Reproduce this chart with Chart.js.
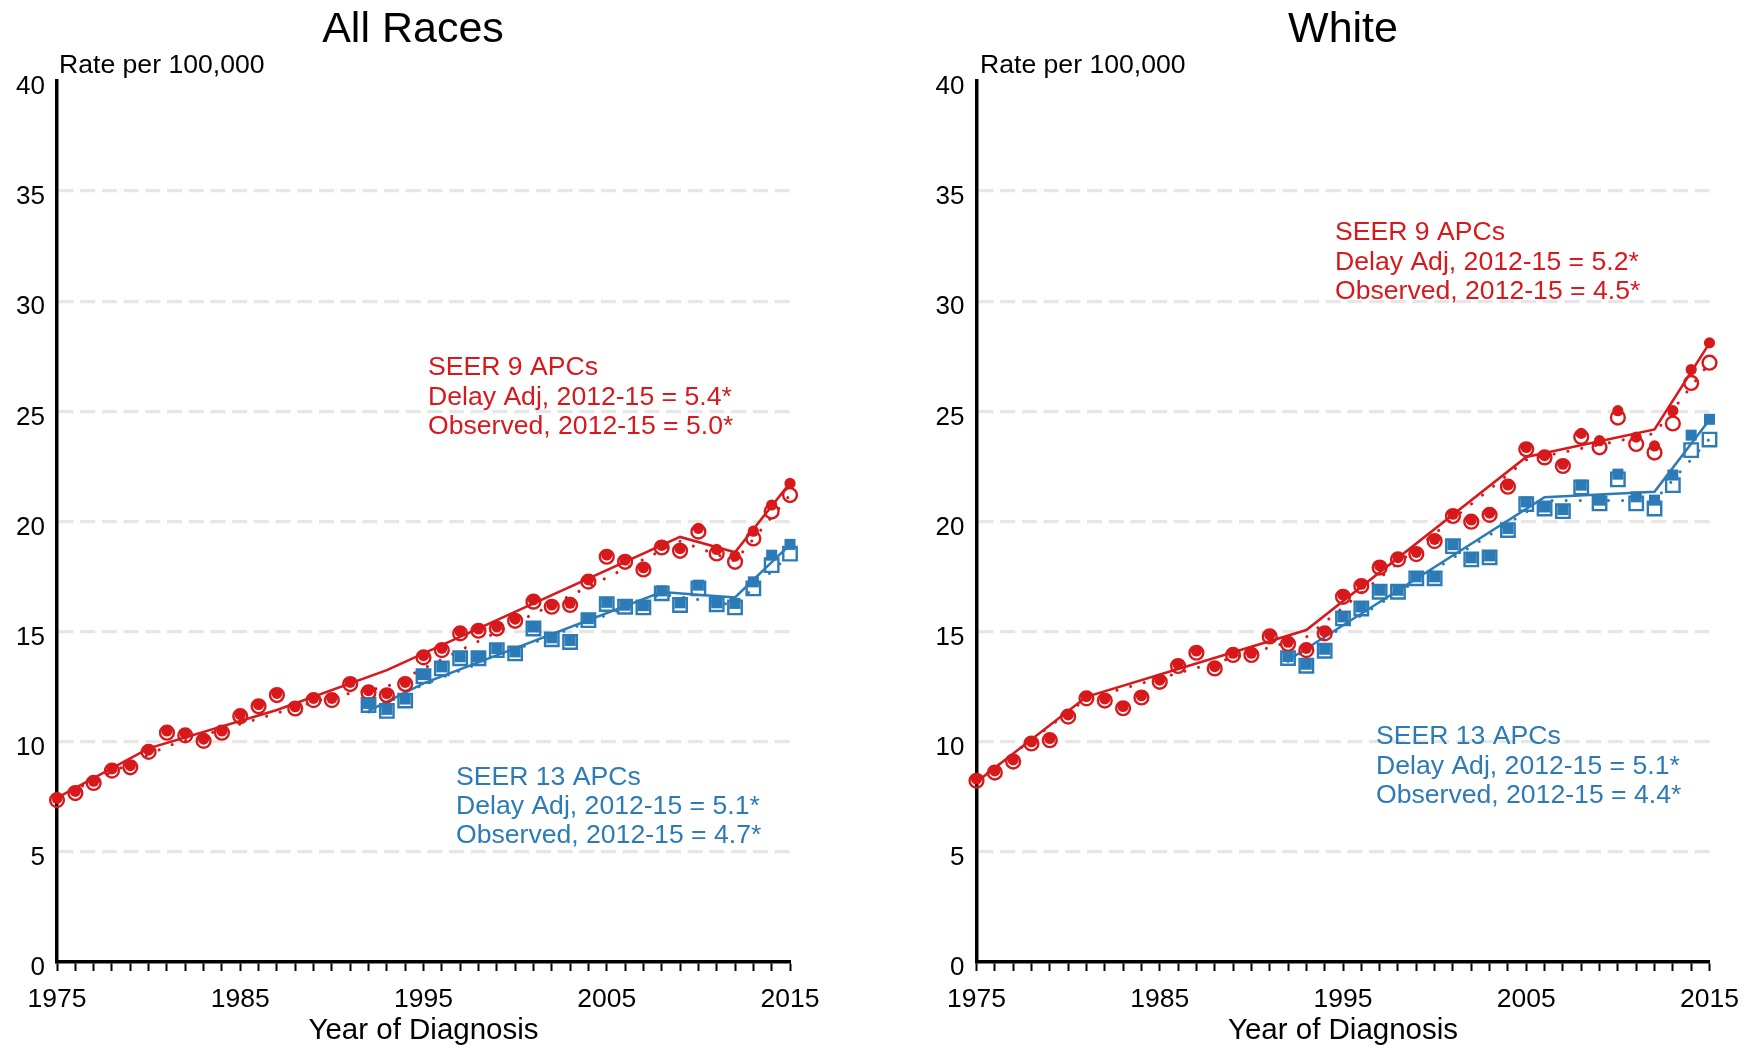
<!DOCTYPE html>
<html>
<head>
<meta charset="utf-8">
<title>SEER incidence trends</title>
<script src="https://cdn.jsdelivr.net/npm/chart.js@4.4.1/dist/chart.umd.min.js"></script>
<style>
  body { margin: 0; background: #fff; }
  canvas { position: absolute; top: 0; }
</style>
</head>
<body>
<canvas id="allRaces" width="877" height="1046" style="left:0"></canvas>
<canvas id="white" width="877" height="1046" style="left:877px"></canvas>
<script>
// years
const years9 = [1975, 1976, 1977, 1978, 1979, 1980, 1981, 1982, 1983, 1984,
  1985, 1986, 1987, 1988, 1989, 1990, 1991, 1992, 1993, 1994,
  1995, 1996, 1997, 1998, 1999, 2000, 2001, 2002, 2003, 2004,
  2005, 2006, 2007, 2008, 2009, 2010, 2011, 2012, 2013, 2014, 2015];
const years13 = [1992, 1993, 1994, 1995, 1996, 1997, 1998, 1999, 2000, 2001,
  2002, 2003, 2004, 2005, 2006, 2007, 2008, 2009, 2010, 2011,
  2012, 2013, 2014, 2015];
const yTicks = [0, 5, 10, 15, 20, 25, 30, 35, 40];
const xLabels = [1975, 1985, 1995, 2005, 2015];

// All Races
const allObs9 = [7.35, 7.67, 8.13, 8.69, 8.84, 9.54, 10.41, 10.29, 10.04, 10.41,
  11.16, 11.61, 12.12, 11.51, 11.89, 11.89, 12.62, 12.24, 12.11, 12.62,
  13.83, 14.16, 14.92, 15.04, 15.14, 15.49, 16.36, 16.13, 16.21, 17.27,
  18.40, 18.17, 17.82, 18.82, 18.67, 19.54, 18.55, 18.17, 19.23, 20.45, 21.20];
const allAdj9 = [7.43, 7.75, 8.21, 8.77, 8.92, 9.62, 10.49, 10.37, 10.12, 10.49,
  11.24, 11.69, 12.20, 11.59, 11.97, 11.97, 12.70, 12.32, 12.19, 12.70,
  13.91, 14.24, 15.00, 15.12, 15.22, 15.57, 16.44, 16.21, 16.29, 17.35,
  18.48, 18.25, 17.90, 18.92, 18.77, 19.69, 18.73, 18.43, 19.56, 20.75, 21.73];
const allObs13 = [11.67, 11.40, 11.87, 12.98, 13.33, 13.79, 13.79, 14.16, 14.01, 15.14,
  14.65, 14.53, 15.52, 16.25, 16.13, 16.10, 16.74, 16.21, 16.96, 16.24,
  16.10, 16.96, 18.02, 18.54];
const allAdj13 = [11.74, 11.47, 11.94, 13.05, 13.40, 13.86, 13.86, 14.23, 14.08, 15.21,
  14.72, 14.60, 15.59, 16.33, 16.20, 16.18, 16.85, 16.31, 17.11, 16.31,
  16.28, 17.26, 18.47, 18.96];
// joinpoint fits
const allFitAdj9Years = [1975, 1980, 1987, 1993, 2009, 2012, 2015];
const allFitAdj9 = [7.45, 9.70, 11.44, 13.25, 19.30, 18.60, 21.75];
const allFitObs9Years = [1975, 1981, 1990, 1993, 2009, 2012, 2015];
const allFitObs9 = [7.45, 9.80, 12.05, 12.50, 19.10, 18.20, 21.20];
const allFitAdj13Years = [1992, 1995, 2008, 2012, 2015];
const allFitAdj13 = [11.40, 12.65, 16.80, 16.55, 18.95];
const allFitObs13Years = [1992, 1995, 2008, 2012, 2015];
const allFitObs13 = [11.35, 12.60, 16.70, 16.20, 18.50];

// White
const whObs9 = [8.23, 8.60, 9.10, 9.92, 10.07, 11.14, 11.97, 11.87, 11.52, 12.01,
  12.72, 13.44, 14.04, 13.33, 13.94, 13.94, 14.78, 14.44, 14.16, 14.92,
  16.58, 17.07, 17.91, 18.28, 18.52, 19.11, 20.25, 19.99, 20.30, 21.58,
  23.28, 22.91, 22.52, 23.84, 23.37, 24.72, 23.52, 23.13, 24.45, 26.29, 27.21];
const whAdj9 = [8.31, 8.68, 9.18, 10.00, 10.15, 11.22, 12.05, 11.95, 11.60, 12.09,
  12.80, 13.52, 14.12, 13.41, 14.02, 14.02, 14.86, 14.52, 14.24, 15.00,
  16.66, 17.15, 17.99, 18.36, 18.60, 19.19, 20.33, 20.07, 20.38, 21.66,
  23.36, 22.99, 22.60, 24.00, 23.67, 25.03, 23.83, 23.43, 25.03, 26.90, 28.11];
const whObs13 = [13.80, 13.45, 14.13, 15.60, 16.05, 16.81, 16.81, 17.42, 17.42, 18.88,
  18.28, 18.37, 19.61, 20.79, 20.59, 20.47, 21.55, 20.82, 21.91, 20.82,
  20.59, 21.65, 23.24, 23.72];
const whAdj13 = [13.87, 13.52, 14.20, 15.67, 16.12, 16.88, 16.88, 17.49, 17.49, 18.95,
  18.35, 18.44, 19.68, 20.89, 20.66, 20.54, 21.65, 20.97, 22.15, 21.12,
  20.97, 22.11, 23.92, 24.64];
const whFitAdj9Years = [1975, 1981, 1993, 2005, 2012, 2015];
const whFitAdj9 = [8.17, 12.04, 15.07, 22.93, 24.18, 28.10];
const whFitObs9Years = [1975, 1981, 1993, 2005, 2012, 2015];
const whFitObs9 = [8.20, 11.95, 14.75, 22.80, 24.00, 27.20];
const whFitAdj13Years = [1992, 2006, 2012, 2015];
const whFitAdj13 = [13.70, 21.10, 21.35, 24.62];
const whFitObs13Years = [1992, 2006, 2012, 2015];
const whFitObs13 = [13.65, 20.95, 20.95, 23.75];

const RED = "#d7191c";
const BLUE = "#2c7bb6";
const FONT = "'Liberation Sans', Arial, Helvetica, sans-serif";

Chart.defaults.font.family = FONT;
Chart.defaults.color = "#000";

const pts = (xs, ys) => xs.map((x, i) => ({ x: x, y: ys[i] }));

function fitLine(xs, ys, color, dotted) {
  return {
    data: pts(xs, ys),
    showLine: true,
    borderColor: color,
    borderWidth: dotted ? 3 : 2.6,
    borderDash: dotted ? [0.1, 14] : [],
    borderCapStyle: dotted ? "round" : "butt",
    pointRadius: 0,
    tension: 0,
    clip: false,
    order: dotted ? 4 : 3,
  };
}

function openMarks(xs, ys, color, style) {
  return {
    data: pts(xs, ys),
    showLine: false,
    pointStyle: style,
    pointRadius: style === "rect" ? 9.5 : 6.9,
    pointBorderWidth: 2.4,
    pointBorderColor: color,
    pointBackgroundColor: "rgba(0,0,0,0)",
    clip: false,
    order: 2,
  };
}

function filledMarks(xs, ys, color, style) {
  return {
    data: pts(xs, ys),
    showLine: false,
    pointStyle: style,
    pointRadius: style === "rect" ? 7.8 : 5.6,
    pointBorderWidth: 0,
    pointBackgroundColor: color,
    pointBorderColor: color,
    clip: false,
    order: 1,
  };
}

// draws the titles and the APC notes
const panelText = {
  id: "panelText",
  afterDraw(chart, args, opts) {
    const ctx = chart.ctx;
    ctx.save();
    ctx.textBaseline = "alphabetic";
    opts.items.forEach((t) => {
      ctx.font = t.size + "px " + FONT;
      ctx.fillStyle = t.color || "#000";
      ctx.textAlign = t.align || "left";
      ctx.fillText(t.text, t.x, t.y);
    });
    ctx.restore();
  },
};

function makePanel(id, yWidth, padRight, datasets, items) {
  return new Chart(document.getElementById(id), {
    type: "scatter",
    data: { datasets: datasets },
    plugins: [panelText],
    options: {
      responsive: false,
      animation: false,
      events: [],
      layout: { padding: { top: 81, right: padRight, left: 0, bottom: 0 } },
      plugins: {
        legend: { display: false },
        tooltip: { enabled: false },
        panelText: { items: items },
      },
      scales: {
        x: {
          type: "linear",
          min: years9[0],
          max: years9[years9.length - 1],
          afterFit: (s) => { s.height = 84; },
          ticks: {
            stepSize: 1,
            maxTicksLimit: 100,
            autoSkip: false,
            maxRotation: 0,
            padding: 13,
            font: { size: 26.5 },
            callback: (v) => (xLabels.includes(v) ? String(v) : ""),
          },
          grid: {
            drawOnChartArea: false,
            drawTicks: true,
            tickLength: 9,
            tickWidth: 2,
            tickColor: "#000",
          },
          border: { display: true, color: "#000", width: 3.5 },
          title: {
            display: true,
            text: "Year of Diagnosis",
            font: { size: 29.5, lineHeight: 1.0 },
            padding: 0,
          },
        },
        y: {
          min: yTicks[0],
          max: yTicks[yTicks.length - 1],
          afterFit: (s) => { s.width = yWidth; },
          ticks: { stepSize: 5, padding: 12, labelOffset: 6, font: { size: 26 } },
          grid: {
            drawTicks: false,
            lineWidth: 3.3,
            color: (c) =>
              c.tick && (c.tick.value === 0 || c.tick.value === 40)
                ? "rgba(0,0,0,0)"
                : "#e6e6e6",
          },
          border: { display: true, color: "#000", width: 3.5, dash: [15, 6.7] },
        },
      },
    },
  });
}

makePanel("allRaces", 57, 87, [
  fitLine(allFitAdj9Years, allFitAdj9, RED, false),
  fitLine(allFitObs9Years, allFitObs9, RED, true),
  fitLine(allFitAdj13Years, allFitAdj13, BLUE, false),
  fitLine(allFitObs13Years, allFitObs13, BLUE, true),
  openMarks(years9, allObs9, RED, "circle"),
  filledMarks(years9, allAdj9, RED, "circle"),
  openMarks(years13, allObs13, BLUE, "rect"),
  filledMarks(years13, allAdj13, BLUE, "rect"),
], [
  { text: "All Races", x: 413, y: 42, size: 43, align: "center" },
  { text: "Rate per 100,000", x: 59, y: 73, size: 26.6 },
  { text: "SEER 9 APCs", x: 428, y: 375, size: 26.6, color: RED },
  { text: "Delay Adj, 2012-15 = 5.4*", x: 428, y: 405, size: 26.6, color: RED },
  { text: "Observed, 2012-15 = 5.0*", x: 428, y: 434, size: 26.6, color: RED },
  { text: "SEER 13 APCs", x: 456, y: 785, size: 26.6, color: BLUE },
  { text: "Delay Adj, 2012-15 = 5.1*", x: 456, y: 814, size: 26.6, color: BLUE },
  { text: "Observed, 2012-15 = 4.7*", x: 456, y: 843, size: 26.6, color: BLUE },
]);

makePanel("white", 99.5, 44.5, [
  fitLine(whFitAdj9Years, whFitAdj9, RED, false),
  fitLine(whFitObs9Years, whFitObs9, RED, true),
  fitLine(whFitAdj13Years, whFitAdj13, BLUE, false),
  fitLine(whFitObs13Years, whFitObs13, BLUE, true),
  openMarks(years9, whObs9, RED, "circle"),
  filledMarks(years9, whAdj9, RED, "circle"),
  openMarks(years13, whObs13, BLUE, "rect"),
  filledMarks(years13, whAdj13, BLUE, "rect"),
], [
  { text: "White", x: 466, y: 42, size: 43, align: "center" },
  { text: "Rate per 100,000", x: 103, y: 73, size: 26.6 },
  { text: "SEER 9 APCs", x: 458, y: 240, size: 26.6, color: RED },
  { text: "Delay Adj, 2012-15 = 5.2*", x: 458, y: 270, size: 26.6, color: RED },
  { text: "Observed, 2012-15 = 4.5*", x: 458, y: 299, size: 26.6, color: RED },
  { text: "SEER 13 APCs", x: 499, y: 744, size: 26.6, color: BLUE },
  { text: "Delay Adj, 2012-15 = 5.1*", x: 499, y: 774, size: 26.6, color: BLUE },
  { text: "Observed, 2012-15 = 4.4*", x: 499, y: 803, size: 26.6, color: BLUE },
]);
</script>
</body>
</html>
